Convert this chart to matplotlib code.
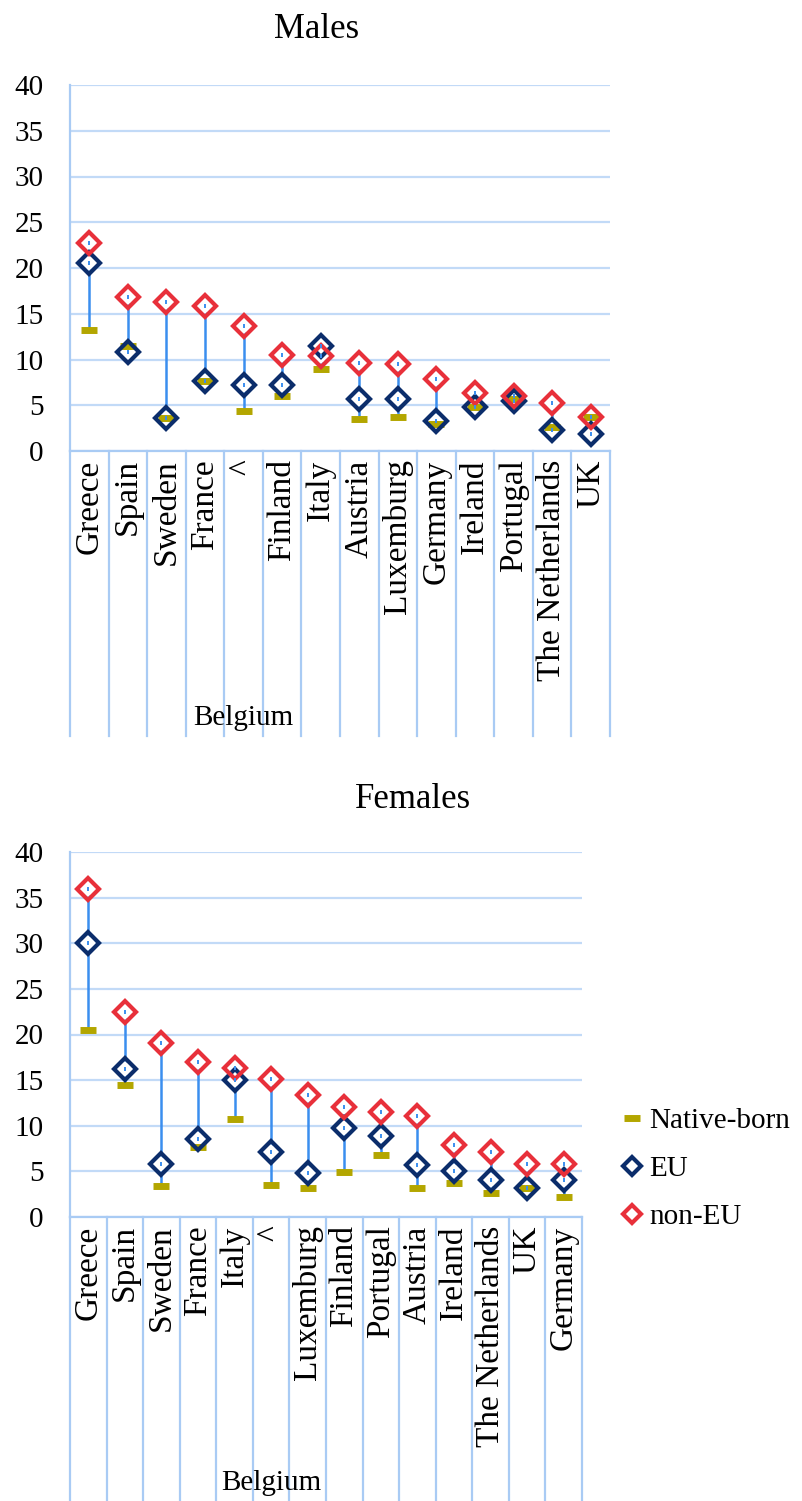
import matplotlib
matplotlib.use("Agg")
from matplotlib import pyplot as plt
from matplotlib.lines import Line2D
import numpy as np

plt.rcParams['font.family'] = ['Liberation Serif', 'DejaVu Serif']

# Males
males_labels = ["Greece", "Spain", "Sweden", "France", "^", "Finland", "Italy",
                "Austria", "Luxemburg", "Germany", "Ireland", "Portugal",
                "The Netherlands", "UK"]
males_native = [13.2, 11.5, 3.6, 7.7, 4.4, 6.0, 9.0, 3.5, 3.75, 2.95, 4.8, 5.7, 2.6, 3.7]
males_eu = [20.6, 10.8, 3.6, 7.6, 7.2, 7.2, 11.5, 5.65, 5.65, 3.3, 4.8, 5.5, 2.3, 1.9]
males_noneu = [22.7, 16.8, 16.3, 15.9, 13.7, 10.5, 10.4, 9.6, 9.5, 7.9, 6.3, 6.0, 5.2, 3.7]

# Females
females_labels = ["Greece", "Spain", "Sweden", "France", "Italy", "^", "Luxemburg",
                  "Finland", "Portugal", "Austria", "Ireland", "The Netherlands",
                  "UK", "Germany"]
females_native = [20.5, 14.5, 3.35, 7.65, 10.7, 3.5, 3.15, 4.9, 6.75, 3.15, 3.7, 2.6, 3.15, 2.15]
females_eu = [30.0, 16.2, 5.8, 8.5, 14.96, 7.1, 4.85, 9.8, 8.9, 5.7, 5.05, 4.05, 3.15, 4.05]
females_noneu = [36.0, 22.5, 19.1, 17.0, 16.3, 15.1, 13.4, 12.1, 11.5, 11.1, 7.9, 7.1, 5.8, 5.8]

group_label = "Belgium"

C_NATIVE = '#b3a600'
C_EU = '#0b2d6b'
C_NONEU = '#e8303a'
C_RANGE = '#3a8eef'
C_GRID = '#c2daf7'
C_AXIS = '#a9cbf4'

FS = 21
FS_CAT = 24


def panel(ax, labels, native, eu, noneu, group_pos):
    x = np.arange(len(labels))
    native = np.array(native)
    eu = np.array(eu)
    noneu = np.array(noneu)
    lo = np.minimum(np.minimum(native, eu), noneu)
    hi = np.maximum(np.maximum(native, eu), noneu)
    ax.vlines(x, lo, hi, color=C_RANGE, lw=1.8, zorder=2)

    # white interior of the diamonds
    for vals in (eu, noneu):
        ax.plot(x, vals, 'D', ms=8.5, mfc='white', mec='white', mew=0, ls='none', zorder=3)
    ax.plot(x, native, '_', ms=12, mew=5, color=C_NATIVE, ls='none', zorder=4)
    ax.plot(x, eu, 'D', ms=11, mfc='none', mec=C_EU, mew=3, ls='none', zorder=5)
    ax.plot(x, noneu, 'D', ms=11, mfc='none', mec=C_NONEU, mew=3, ls='none', zorder=6)
    for vals in (eu, noneu):
        ax.plot(x, vals, '|', ms=3.5, mew=1.4, color=C_RANGE, ls='none', zorder=7)

    ax.set_xlim(-0.5, len(labels) - 0.5)
    ax.set_ylim(0, 40)
    ax.set_yticks(np.arange(0, 41, 5))
    ax.yaxis.grid(True, color=C_GRID, lw=1.6)
    ax.set_axisbelow(True)
    for s in ('top', 'right'):
        ax.spines[s].set_visible(False)
    for s in ('left', 'bottom'):
        ax.spines[s].set_color(C_AXIS)
        ax.spines[s].set_linewidth(1.6)
    ax.tick_params(axis='y', length=0, pad=19, labelsize=FS)
    ax.set_xticks(x)
    ax.set_xticklabels(labels, rotation=90, fontsize=FS_CAT, va='top', ha='center')
    ax.tick_params(axis='x', length=0, pad=6)

    # category separators below the axis
    for b in np.arange(-0.5, len(labels), 1.0):
        ax.plot([b, b], [0, -0.78], color=C_AXIS, lw=1.6,
                transform=ax.get_xaxis_transform(), clip_on=False, zorder=1)
    ax.text(group_pos, -0.73, group_label, transform=ax.get_xaxis_transform(),
            ha='center', va='center', fontsize=FS)


fig = plt.figure(figsize=(8.02, 15.01), dpi=100)
W, H = 802, 1501
ax1 = fig.add_axes([70 / W, 1 - 451 / H, 540 / W, 366 / H])
ax2 = fig.add_axes([70 / W, 1 - 1217 / H, 512 / W, 365 / H])

panel(ax1, males_labels, males_native, males_eu, males_noneu, 4)
panel(ax2, females_labels, females_native, females_eu, females_noneu, 5)

fig.text(317 / W, 1 - 29 / H, "Males", ha='center', va='center', fontsize=25)
fig.text(413 / W, 1 - 800 / H, "Females", ha='center', va='center', fontsize=25)

handles = [
    Line2D([], [], marker='_', ms=12, mew=5, color=C_NATIVE, ls='none'),
    Line2D([], [], marker='D', ms=9, mfc='white', mec=C_EU, mew=3, ls='none'),
    Line2D([], [], marker='D', ms=9, mfc='white', mec=C_NONEU, mew=3, ls='none'),
]
fig.legend(handles, ["Native-born", "EU", "non-EU"], loc='center left',
           bbox_to_anchor=(620 / W, 1 - 1169 / H), frameon=False, fontsize=FS,
           handlelength=0.8, handletextpad=0.2, labelspacing=0.75, borderpad=0,
           borderaxespad=0)

fig.savefig("out.png", dpi=100)
